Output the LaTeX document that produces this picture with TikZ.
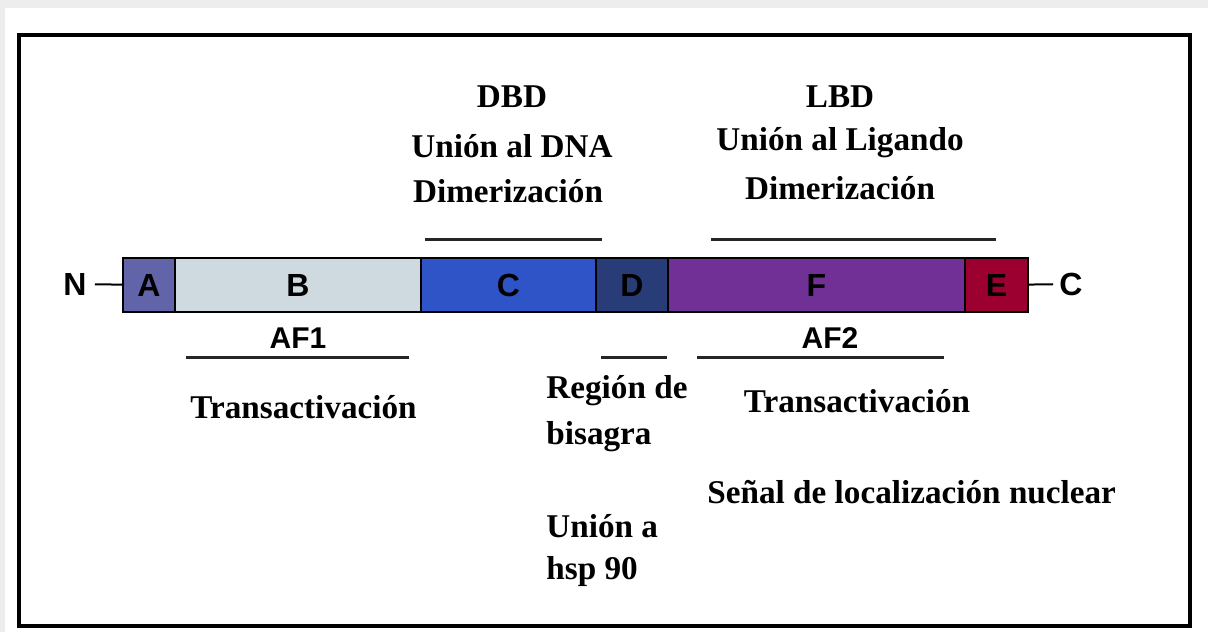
\documentclass[tikz,border=0pt]{standalone}
\usepackage{fontspec}
\setmainfont{Liberation Serif}
\setsansfont{Liberation Sans}
\usetikzlibrary{positioning}

\definecolor{segA}{RGB}{98,100,170}
\definecolor{segB}{RGB}{206,218,224}
\definecolor{segC}{RGB}{46,84,200}
\definecolor{segD}{RGB}{40,60,120}
\definecolor{segF}{RGB}{112,48,150}
\definecolor{segE}{RGB}{155,0,48}

\tikzset{
  seg/.style={draw=black, line width=1pt, minimum height=27pt, inner sep=0pt,
    outer sep=0pt, font=\sffamily\bfseries\fontsize{16}{16}\selectfont},
  term/.style={inner sep=4pt, font=\sffamily\bfseries\fontsize{16}{16}\selectfont},
  lab/.style={inner sep=0pt, font=\bfseries\fontsize{16.6}{16.6}\selectfont},
  tag/.style={inner sep=0pt, font=\sffamily\bfseries\fontsize{15}{15}\selectfont},
  span/.style={line width=1.5pt, draw=black!85}
}

\begin{document}
\begin{tikzpicture}[x=0.5pt, y=-0.5pt]
\useasboundingbox (0,0) rectangle (1208,632);
\fill[black!7] (0,0) rectangle (1208,632);
\fill[white] (5,8) rectangle (1208,632);
\draw[line width=2pt] (19,35) rectangle (1190,626);

% domains of the receptor
\node[seg, fill=segA, minimum width=26pt, anchor=west] (A) at (123,285) {A};
\node[seg, fill=segB, minimum width=123pt, right=0pt of A] (B) {B};
\node[seg, fill=segC, minimum width=87.5pt, right=0pt of B] (C) {C};
\node[seg, fill=segD, minimum width=36pt, right=0pt of C] (D) {D};
\node[seg, fill=segF, minimum width=148.5pt, right=0pt of D] (F) {F};
\node[seg, fill=segE, minimum width=31.5pt, right=0pt of F] (E) {E};

\node[term] (nt) at (75,284) {N};
\node[term, inner sep=3pt] (ct) at (1071,284) {C};
\draw[line width=1pt] (nt) -- (A);
\draw[line width=1pt] (E) -- (ct);

% above
\node[lab] (dbd) at (512,97) {DBD};
\node[lab] (dbd1) at (512,146) {Unión al DNA};
\node[lab] (dbd2) at (508,191) {Dimerización};
\draw[span] (425,239) -- (602,239);

\node[lab] (lbd) at (840,97) {LBD};
\node[lab] (lbd1) at (840,143) {Unión al Ligando};
\node[lab] (lbd2) at (840,188) {Dimerización};
\draw[span] (711,239) -- (996,239);

% below
\node[tag] (af1) at (298,338) {AF1};
\draw[span] (186,357) -- (409,357);
\node[lab, anchor=west] (ta1) at (190,407) {Transactivación};

\draw[span] (601,357) -- (667,357);
\node[lab, anchor=west] (hin1) at (546,391) {Región de};
\node[lab, anchor=west] (hin2) at (546,437) {bisagra};
\node[lab, anchor=west] (hsp1) at (546,526) {Unión a};
\node[lab, anchor=west] (hsp2) at (546,572) {hsp 90};

\node[tag] (af2) at (830,338) {AF2};
\draw[span] (697,357) -- (944,357);
\node[lab] (ta2) at (857,401) {Transactivación};
\node[lab, anchor=west] (nls) at (707,492) {Señal de localización nuclear};
\end{tikzpicture}
\end{document}
